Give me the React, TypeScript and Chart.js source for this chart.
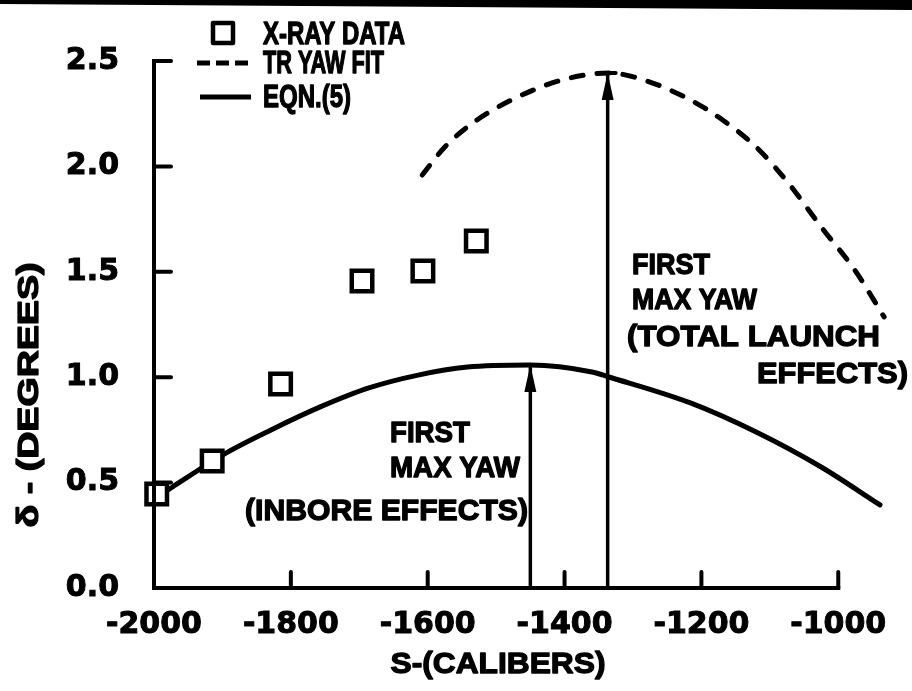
import React, { useEffect, useRef } from 'react';
import { Chart, registerables } from 'chart.js';

Chart.register(...registerables);

// ---- data ----
const xraySCalibers = [-1996, -1915, -1815, -1696, -1607, -1529];
const xrayDelta = [0.446, 0.602, 0.968, 1.456, 1.504, 1.646];

const eqn5SCalibers = [-2000, -1973, -1895, -1829, -1757, -1686, -1614, -1542, -1450, -1360, -1335, -1216, -1120, -1025, -939];
const eqn5Delta = [0.42, 0.479, 0.64, 0.75, 0.859, 0.949, 1.01, 1.048, 1.058, 1.025, 1.001, 0.878, 0.74, 0.574, 0.394];

const trFitSCalibers = [-1608, -1575, -1528, -1446, -1393, -1335, -1284, -1216, -1169, -1120, -1073, -1025, -976, -933];
const trFitDelta = [1.959, 2.092, 2.22, 2.362, 2.419, 2.443, 2.41, 2.315, 2.22, 2.092, 1.921, 1.713, 1.509, 1.286];

const arrowSCalibers = [-1450, -1337];
const arrowTopDelta = [1.058, 2.443];

const xTickValues = [-2000, -1800, -1600, -1400, -1200, -1000];
const yTickValues = [0, 0.5, 1.0, 1.5, 2.0, 2.5];
const xRange = [-2000, -920];
const yRange = [0, 2.5];

const legendLabels = ['X-RAY DATA', 'TR YAW FIT', 'EQN.(5)'];
const inboreNote = ['FIRST', 'MAX YAW', '(INBORE EFFECTS)'];
const totalNote = ['FIRST', 'MAX YAW', '(TOTAL LAUNCH', 'EFFECTS)'];
const xTitle = 'S-(CALIBERS)';
const yTitle = 'δ - (DEGREES)';

const INK = '#000000';
const SANS = '"Liberation Sans", Arial, sans-serif';
const TICK_FAMILY = '"DejaVu Sans", sans-serif';

function fitText(
  ctx: CanvasRenderingContext2D,
  text: string,
  x: number,
  y: number,
  width: number,
  align: CanvasTextAlign,
  size: number,
  rotate = false
) {
  ctx.save();
  ctx.font = `bold ${size}px ${SANS}`;
  const m = ctx.measureText(text).width || 1;
  const sx = width / m;
  ctx.translate(x, y);
  if (rotate) ctx.rotate(-Math.PI / 2);
  ctx.scale(sx, 1);
  ctx.textAlign = align;
  ctx.textBaseline = 'middle';
  ctx.fillStyle = INK;
  ctx.strokeStyle = INK;
  ctx.lineWidth = 1.3;
  ctx.lineJoin = 'round';
  ctx.strokeText(text, 0, 0);
  ctx.fillText(text, 0, 0);
  ctx.restore();
}

const decorPlugin = {
  id: 'decor',
  afterDatasetsDraw(chart: any) {
    const ctx: CanvasRenderingContext2D = chart.ctx;
    const xs = chart.scales.x;
    const ys = chart.scales.y;
    const x0 = xs.getPixelForValue(xTickValues[0]);
    const x1 = xs.getPixelForValue(xTickValues[xTickValues.length - 1]);
    const y0 = ys.getPixelForValue(yTickValues[0]);
    const y1 = ys.getPixelForValue(yTickValues[yTickValues.length - 1]);

    ctx.save();
    ctx.strokeStyle = INK;
    ctx.fillStyle = INK;
    ctx.lineCap = 'square';
    ctx.lineJoin = 'miter';
    ctx.lineWidth = 4;
    // axis frame
    ctx.beginPath();
    ctx.moveTo(x0, y1);
    ctx.lineTo(x0, y0);
    ctx.lineTo(x1, y0);
    ctx.stroke();
    ctx.lineCap = 'round';
    // y ticks (inward)
    yTickValues.slice(1).forEach((v) => {
      const y = ys.getPixelForValue(v);
      ctx.beginPath();
      ctx.moveTo(x0, y);
      ctx.lineTo(x0 + 17, y);
      ctx.stroke();
    });
    // x ticks (inward)
    xTickValues.slice(1).forEach((v) => {
      const x = xs.getPixelForValue(v);
      ctx.beginPath();
      ctx.moveTo(x, y0);
      ctx.lineTo(x, y0 - 16);
      ctx.stroke();
    });

    // arrow heads
    arrowSCalibers.forEach((s, i) => {
      const x = xs.getPixelForValue(s);
      const yt = ys.getPixelForValue(arrowTopDelta[i]);
      ctx.beginPath();
      ctx.moveTo(x, yt);
      ctx.lineTo(x - 6, yt + 27);
      ctx.lineTo(x + 6, yt + 27);
      ctx.closePath();
      ctx.fill();
      if (i === 1) {
        ctx.lineWidth = 4;
        ctx.beginPath();
        ctx.moveTo(x - 8, yt);
        ctx.lineTo(x + 8, yt);
        ctx.stroke();
      }
    });

    // legend
    ctx.lineWidth = 4.5;
    ctx.lineJoin = 'round';
    ctx.fillStyle = '#ffffff';
    ctx.beginPath();
    ctx.rect(213, 23, 20, 20);
    ctx.fill();
    ctx.stroke();
    ctx.lineWidth = 5;
    ctx.lineCap = 'butt';
    ctx.setLineDash([13, 6]);
    ctx.beginPath();
    ctx.moveTo(197, 63);
    ctx.lineTo(252, 63);
    ctx.stroke();
    ctx.setLineDash([]);
    ctx.beginPath();
    ctx.moveTo(200, 97);
    ctx.lineTo(251, 97);
    ctx.stroke();

    fitText(ctx, legendLabels[0], 263, 35, 142, 'left', 31);
    fitText(ctx, legendLabels[1], 263, 64, 121, 'left', 31);
    fitText(ctx, legendLabels[2], 263, 98, 88, 'left', 31);

    // annotations
    fitText(ctx, inboreNote[0], 390, 434, 80, 'left', 29);
    fitText(ctx, inboreNote[1], 390, 469, 130, 'left', 29);
    fitText(ctx, inboreNote[2], 245, 512, 283, 'left', 29);

    fitText(ctx, totalNote[0], 632, 266, 78, 'left', 29);
    fitText(ctx, totalNote[1], 632, 301, 125, 'left', 29);
    fitText(ctx, totalNote[2], 627, 338, 253, 'left', 29);
    fitText(ctx, totalNote[3], 908, 375, 151, 'right', 29);

    // axis titles
    fitText(ctx, xTitle, 498, 665, 215, 'center', 30);
    fitText(ctx, yTitle, 30, 395, 265, 'center', 30, true);

    // dark scan edge along the top
    ctx.fillStyle = INK;
    ctx.beginPath();
    ctx.moveTo(0, 0);
    ctx.lineTo(912, 0);
    ctx.lineTo(912, 10);
    ctx.lineTo(0, 4);
    ctx.closePath();
    ctx.fill();
    ctx.restore();
  },
};

export default function App() {
  const canvasRef = useRef<HTMLCanvasElement | null>(null);

  useEffect(() => {
    document.body.style.margin = '0';
    const canvas = canvasRef.current;
    if (!canvas) return;

    const toPts = (xs: number[], ys: number[]) => xs.map((x, i) => ({ x, y: ys[i] }));

    const chart = new Chart(canvas, {
      type: 'line',
      data: {
        datasets: [
          {
            label: legendLabels[0],
            data: toPts(xraySCalibers, xrayDelta),
            showLine: false,
            pointStyle: 'rect',
            pointRadius: 14.5,
            pointBorderWidth: 4.5,
            pointBackgroundColor: '#ffffff',
            pointBorderColor: INK,
            borderColor: INK,
            backgroundColor: '#ffffff',
          },
          {
            label: legendLabels[2],
            data: toPts(eqn5SCalibers, eqn5Delta),
            borderColor: INK,
            borderWidth: 5,
            pointRadius: 0,
            cubicInterpolationMode: 'monotone',
            borderCapStyle: 'round',
            fill: false,
          },
          {
            label: legendLabels[1],
            data: toPts(trFitSCalibers, trFitDelta),
            borderColor: INK,
            borderWidth: 5,
            borderDash: [12, 14],
            borderCapStyle: 'round',
            pointRadius: 0,
            cubicInterpolationMode: 'monotone',
            fill: false,
          },
          {
            label: 'inbore arrow',
            data: [
              { x: arrowSCalibers[0], y: 0 },
              { x: arrowSCalibers[0], y: arrowTopDelta[0] },
            ],
            borderColor: INK,
            borderWidth: 3.5,
            pointRadius: 0,
          },
          {
            label: 'total arrow',
            data: [
              { x: arrowSCalibers[1], y: 0 },
              { x: arrowSCalibers[1], y: arrowTopDelta[1] },
            ],
            borderColor: INK,
            borderWidth: 3.5,
            pointRadius: 0,
          },
        ],
      } as any,
      options: {
        animation: false,
        responsive: false,
        maintainAspectRatio: false,
        clip: false as any,
        layout: { padding: { top: 61, right: 5, bottom: 0, left: 0 } },
        plugins: {
          legend: { display: false },
          tooltip: { enabled: false },
          title: { display: false },
        },
        scales: {
          x: {
            type: 'linear',
            min: xRange[0],
            max: xRange[1],
            bounds: 'data',
            grid: { display: false, drawTicks: false },
            border: { display: false },
            afterBuildTicks: (scale: any) => {
              scale.ticks = xTickValues.map((v) => ({ value: v }));
              scale.min = xRange[0];
              scale.max = xRange[1];
            },
            afterFit: (scale: any) => {
              scale.height = 103;
              scale.paddingLeft = 0;
              scale.paddingRight = 0;
            },
            ticks: {
              autoSkip: false,
              maxRotation: 0,
              minRotation: 0,
              padding: 19,
              color: INK,
              font: { family: TICK_FAMILY, size: 30, weight: 'bold' },
              textStrokeColor: INK,
              textStrokeWidth: 1,
              callback: (v: any) => String(v),
            } as any,
          },
          y: {
            type: 'linear',
            min: yRange[0],
            max: yRange[1],
            bounds: 'data',
            grid: { display: false, drawTicks: false },
            border: { display: false },
            afterBuildTicks: (scale: any) => {
              scale.ticks = yTickValues.map((v) => ({ value: v }));
              scale.min = yRange[0];
              scale.max = yRange[1];
            },
            afterFit: (scale: any) => {
              scale.width = 154;
              scale.paddingTop = 0;
              scale.paddingBottom = 0;
            },
            ticks: {
              padding: 35,
              color: INK,
              font: { family: TICK_FAMILY, size: 30, weight: 'bold' },
              textStrokeColor: INK,
              textStrokeWidth: 1,
              callback: (v: any) => Number(v).toFixed(1),
            } as any,
          },
        },
      } as any,
      plugins: [decorPlugin],
    });

    return () => chart.destroy();
  }, []);

  return (
    <div style={{ width: 912, height: 691, background: '#ffffff' }}>
      <canvas ref={canvasRef} width={912} height={691} style={{ display: 'block' }} />
    </div>
  );
}
